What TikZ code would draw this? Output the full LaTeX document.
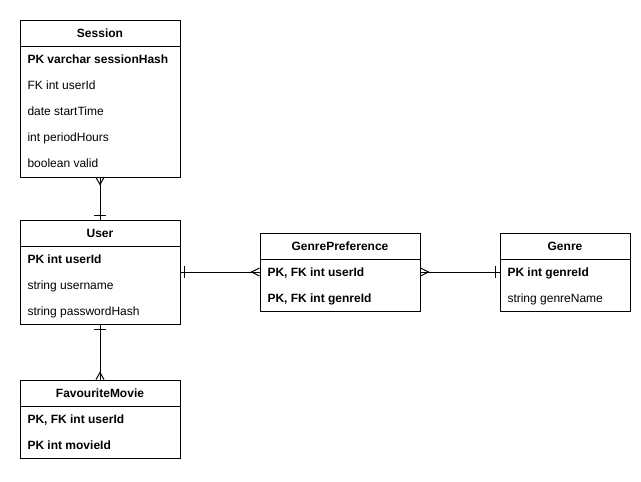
\documentclass[tikz,border=0pt]{standalone}
\usepackage{fontspec}
\setmainfont{Liberation Sans}
\begin{document}
\begin{tikzpicture}[x=1pt,y=-1pt,line width=1pt,
  font=\fontsize{12}{14}\selectfont,
  entity/.style={draw, rectangle, minimum width=160pt, inner sep=0pt},
  head/.style={draw, rectangle, minimum width=160pt, minimum height=26pt, inner sep=0pt, font=\fontsize{12}{14}\selectfont\bfseries},
  field/.style={anchor=west, inner sep=0pt, text height=9pt, text depth=0pt},
  key/.style={field, font=\fontsize{12}{14}\selectfont\bfseries}]
\useasboundingbox (0,0) rectangle (641,482);

% entities
\node[entity, minimum height=157pt] (session) at (100,98.5) {};
\node[head] (sessionhead) at (100,33) {Session};
\node[key] (s1) at (27,59) {PK varchar sessionHash};
\node[field] (s2) at (27,85) {FK int userId};
\node[field] (s3) at (27,111) {date startTime};
\node[field] (s4) at (27,137) {int periodHours};
\node[field] (s5) at (27,163) {boolean valid};

\node[entity, minimum height=104pt] (user) at (100,272) {};
\node[head] (userhead) at (100,233) {User};
\node[key] (u1) at (27,259) {PK int userId};
\node[field] (u2) at (27,285) {string username};
\node[field] (u3) at (27,311) {string passwordHash};

\node[entity, minimum height=78pt] (favmovie) at (100,419) {};
\node[head] (favmoviehead) at (100,393) {FavouriteMovie};
\node[key] (f1) at (27,419) {PK, FK int userId};
\node[key] (f2) at (27,445) {PK int movieId};

\node[entity, minimum height=78pt] (genrepref) at (340,272) {};
\node[head] (genreprefhead) at (340,246) {GenrePreference};
\node[key] (p1) at (267,272) {PK, FK int userId};
\node[key] (p2) at (267,298) {PK, FK int genreId};

\node[entity, minimum width=130pt, minimum height=78pt] (genre) at (565,272) {};
\node[head, minimum width=130pt] (genrehead) at (565,246) {Genre};
\node[key] (g1) at (507,272) {PK int genreId};
\node[field] (g2) at (507,298) {string genreName};

% relations
\draw (session.south) -- (user.north);
\draw (session.south) ++(-4,0) -- ++(4,7) -- ++(4,-7);
\draw (user.north) ++(-6,-4) -- ++(12,0);

\draw (user.east) -- (genrepref.west);
\draw (user.east) ++(4,-6) -- ++(0,12);
\draw (genrepref.west) ++(0,-4) -- ++(-8,4) -- ++(8,4);

\draw (genrepref.east) -- (genre.west);
\draw (genrepref.east) ++(0,-4) -- ++(8,4) -- ++(-8,4);
\draw (genre.west) ++(-4,-6) -- ++(0,12);

\draw (user.south) -- (favmovie.north);
\draw (user.south) ++(-6,5) -- ++(12,0);
\draw (favmovie.north) ++(-4,0) -- ++(4,-7) -- ++(4,7);
\end{tikzpicture}
\end{document}
